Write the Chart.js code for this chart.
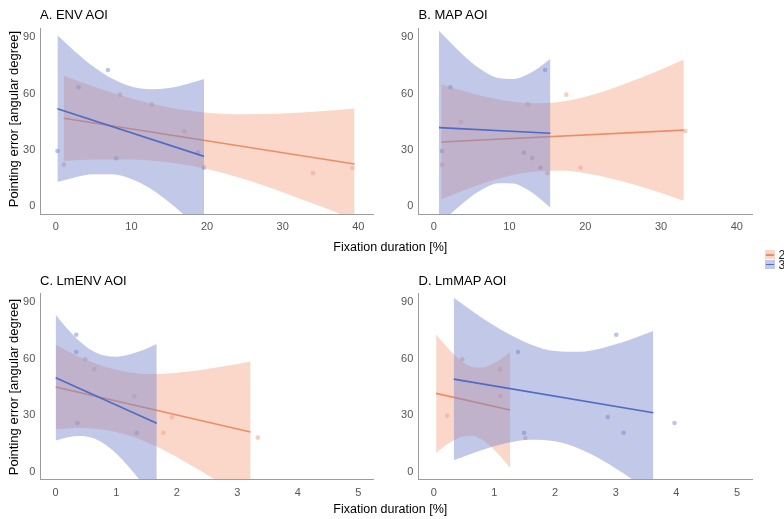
<!DOCTYPE html>
<html><head><meta charset="utf-8">
<script src="https://cdn.jsdelivr.net/npm/chart.js@4"></script>
<style>
body{margin:0;background:#fff;width:784px;height:519px;overflow:hidden;position:relative;font-family:"Liberation Sans",Arial,sans-serif;}
canvas{position:absolute;}
.t{position:absolute;white-space:nowrap;color:#000;}
.key{position:absolute;width:10px;height:9px;}
.key i{position:absolute;left:1px;right:1px;top:4px;height:1.5px;display:block;}
</style></head><body>
<canvas id="cA" width="392" height="260" style="left:0;top:0"></canvas>
<canvas id="cB" width="392" height="260" style="left:392px;top:0"></canvas>
<canvas id="cC" width="392" height="259" style="left:0;top:260px"></canvas>
<canvas id="cD" width="392" height="259" style="left:392px;top:260px"></canvas>

<div class="t" style="left:40px;top:8.3px;font-size:13px;line-height:13px">A. ENV AOI</div>
<div class="t" style="left:418.5px;top:8.3px;font-size:13px;line-height:13px">B. MAP AOI</div>
<div class="t" style="left:40px;top:274px;font-size:13px;line-height:13px">C. LmENV AOI</div>
<div class="t" style="left:418.5px;top:274px;font-size:13px;line-height:13px">D. LmMAP AOI</div>

<div class="t" style="left:-86.5px;top:112px;width:200px;height:14px;line-height:14px;font-size:13px;text-align:center;transform:rotate(-90deg)">Pointing error [angular degree]</div>
<div class="t" style="left:-86.5px;top:379.5px;width:200px;height:14px;line-height:14px;font-size:13px;text-align:center;transform:rotate(-90deg)">Pointing error [angular degree]</div>

<div class="t" style="left:290.3px;top:241.4px;width:200px;text-align:center;font-size:12.5px;line-height:12.5px">Fixation duration [%]</div>
<div class="t" style="left:290.3px;top:503px;width:200px;text-align:center;font-size:12.5px;line-height:12.5px">Fixation duration [%]</div>

<div class="key" style="left:765px;top:250px;background:#F9D7C8"><i style="background:#EB8E68"></i></div>
<div class="key" style="left:765px;top:259.5px;background:#C3C9E7"><i style="background:#4E6BC6"></i></div>
<div class="t" id="lg2" style="left:778.5px;top:248.5px;font-size:12px;line-height:12px;color:#222">2</div>
<div class="t" id="lg3" style="left:778.5px;top:258.5px;font-size:12px;line-height:12px;color:#222">3</div>

<script>
// ---- tick labels ----
const yTicks = [0, 30, 60, 90];
const xTicksAB = [0, 10, 20, 30, 40];
const xTicksCD = [0, 1, 2, 3, 4, 5];
const groups = ['2', '3'];

// ---- Panel A: ENV AOI ----
const aOrPtsX = [1.06, 8.5, 12.7, 17.0, 34.0, 39.2];
const aOrPtsY = [22.2, 59.5, 54.3, 40.0, 17.7, 20.4];
const aBlPtsX = [0.22, 3.0, 6.9, 8.0, 18.8, 19.6];
const aBlPtsY = [29.5, 63.4, 72.6, 25.6, 28.8, 20.6];
const aOrBandX = [1.06, 5, 10, 15, 20, 25, 30, 35, 39.5];
const aOrUpper = [69.5, 63.8, 57.4, 52.6, 49.9, 49.1, 49.5, 50.6, 52.1];
const aOrLower = [24.3, 25.0, 25.0, 23.4, 19.9, 14.4, 7.5, 0.0, -7.1];
const aOrFitX = [1.06, 39.5];
const aOrFitY = [46.9, 22.5];
const aBlBandX = [0.22, 2.5, 5, 7.5, 10, 12.5, 15, 17.5, 19.6];
const aBlUpper = [91.1, 82.6, 74.3, 67.9, 63.8, 62.3, 63.0, 65.3, 67.8];
const aBlLower = [12.9, 15.4, 17.1, 17.1, 14.6, 9.5, 2.2, -6.5, -14.6];
const aBlFitX = [0.22, 19.6];
const aBlFitY = [52.0, 26.6];

// ---- Panel B: MAP AOI ----
const bOrPtsX = [17.5, 12.4, 3.6, 33.2, 1.1, 15.0, 19.4];
const bOrPtsY = [59.5, 54.3, 44.9, 40.1, 22.2, 17.7, 20.6];
const bBlPtsX = [14.7, 2.2, 1.1, 11.9, 13.0, 14.1];
const bBlPtsY = [72.6, 63.4, 29.5, 28.6, 25.7, 20.6];
const bOrBandX = [1.0, 5, 9, 13, 17, 21, 25, 29, 33.0];
const bOrUpper = [64.9, 60.2, 56.6, 54.9, 55.9, 59.5, 64.9, 71.2, 78.2];
const bOrLower = [3.7, 10.0, 15.2, 18.4, 19.0, 17.0, 13.2, 8.4, 3.0];
const bOrFitX = [1.0, 33.0];
const bOrFitY = [34.3, 40.6];
const bBlBandX = [0.7, 2.5, 4.5, 6.5, 8.5, 10.5, 12.5, 14, 15.4];
const bBlUpper = [93.6, 86.1, 78.4, 72.2, 68.3, 67.8, 70.5, 74.2, 78.6];
const bBlLower = [-9.8, -3.1, 3.8, 9.2, 12.3, 12.1, 8.5, 4.1, -0.8];
const bBlFitX = [0.7, 15.4];
const bBlFitY = [41.9, 38.9];

// ---- Panel C: LmENV AOI ----
const cOrPtsX = [0.49, 0.64, 1.3, 1.78, 1.92, 3.34];
const cOrPtsY = [59.7, 54.5, 40.0, 20.7, 28.9, 18.1];
const cBlPtsX = [0.34, 0.34, 0.36, 1.34];
const cBlPtsY = [72.8, 63.6, 25.9, 20.5];
const cOrBandX = [0, 0.4, 0.8, 1.2, 1.6, 2.0, 2.4, 2.8, 3.22];
const cOrUpper = [67.4, 60.8, 55.9, 52.9, 51.9, 52.6, 54.1, 56.1, 58.6];
const cOrLower = [22.6, 23.2, 22.3, 19.3, 14.3, 7.8, 0.3, -7.7, -16.4];
const cOrFitX = [0, 3.22];
const cOrFitY = [45.0, 21.1];
const cBlBandX = [0, 0.2, 0.4, 0.6, 0.8, 1.0, 1.2, 1.4, 1.67];
const cBlUpper = [83.4, 75.7, 69.2, 64.4, 61.7, 61.1, 62.1, 64.1, 67.9];
const cBlLower = [16.5, 18.3, 19.0, 18.0, 14.9, 9.7, 2.9, -4.9, -16.5];
const cBlFitX = [0, 1.67];
const cBlFitY = [49.9, 25.7];

// ---- Panel D: LmMAP AOI ----
const dOrPtsX = [0.47, 1.09, 1.1, 0.22, 1.51];
const dOrPtsY = [59.7, 54.4, 40.2, 29.7, 17.9];
const dBlPtsX = [3.01, 1.39, 2.87, 3.97, 1.49, 3.13];
const dBlPtsY = [72.8, 63.6, 29.0, 25.9, 20.6, 20.7];
const dOrBandX = [0.04, 0.2, 0.35, 0.5, 0.65, 0.8, 0.95, 1.1, 1.26];
const dOrUpper = [73.1, 66.9, 61.7, 57.7, 55.5, 55.3, 56.9, 59.8, 63.6];
const dOrLower = [10.1, 14.1, 17.0, 18.8, 18.9, 16.9, 13.1, 8.2, 2.0];
const dOrFitX = [0.04, 1.26];
const dOrFitY = [41.6, 32.8];
const dBlBandX = [0.33, 0.75, 1.2, 1.6, 2.0, 2.4, 2.8, 3.2, 3.62];
const dBlUpper = [92.4, 82.8, 73.8, 67.6, 64.1, 63.7, 65.9, 69.7, 74.7];
const dBlLower = [6.0, 11.0, 15.2, 17.0, 16.1, 12.2, 5.7, -2.5, -12.1];
const dBlFitX = [0.33, 3.62];
const dBlFitY = [49.2, 31.3];

// ---- styles ----
const OR_LINE = '#EB8E68', OR_FILL = 'rgba(243,160,125,0.42)', OR_PT = 'rgba(232,130,95,0.38)';
const BL_LINE = '#4E6BC6', BL_FILL = 'rgba(118,132,204,0.45)', BL_PT = 'rgba(80,100,200,0.38)';

const xy = (xs, ys) => xs.map((x, i) => ({x: x, y: ys[i]}));

function bandSets(bx, up, lo, fill, order) {
  return [
    {type:'line', data: xy(bx, up), fill: {target:'+1'}, backgroundColor: fill,
     borderColor:'rgba(0,0,0,0)', borderWidth:0, pointRadius:0, cubicInterpolationMode:'monotone', order: order},
    {type:'line', data: xy(bx, lo), fill: false, borderColor:'rgba(0,0,0,0)', borderWidth:0,
     pointRadius:0, cubicInterpolationMode:'monotone', order: order}
  ];
}
function fitSet(fx, fy, color, order) {
  return {type:'line', data: xy(fx, fy), fill:false, borderColor: color, borderWidth:1.6, pointRadius:0, order: order};
}
function ptSet(px, py, color) {
  return {type:'scatter', data: xy(px, py), showLine:false, backgroundColor: color, borderWidth:0,
          pointRadius:2.3, pointStyle:'circle', order: 10};
}

function panel(id, cv, area, xr, yr, xT, P) {
  const tickFont = {family:'"Liberation Sans", Arial, sans-serif', size:11};
  new Chart(document.getElementById(id), {
    type: 'line',
    data: { datasets: [
      ...bandSets(P.obx, P.ou, P.ol, OR_FILL, 6),
      fitSet(P.ofx, P.ofy, OR_LINE, 5),
      ...bandSets(P.bbx, P.bu, P.bl, BL_FILL, 4),
      fitSet(P.bfx, P.bfy, BL_LINE, 3),
      ptSet(P.opx, P.opy, OR_PT),
      ptSet(P.bpx, P.bpy, BL_PT)
    ]},
    options: {
      responsive:false, animation:false, devicePixelRatio:1,
      layout:{padding:{left:0, top: area.t - cv.top, right: cv.left + cv.w - area.r, bottom:0}},
      plugins:{legend:{display:false}, tooltip:{enabled:false}},
      scales:{
        x:{type:'linear', min:xr[0], max:xr[1],
           grid:{display:false, drawTicks:false},
           border:{display:true, color:'#9c9c9c', width:1},
           ticks:{color:'#555', font:tickFont, padding: P.xpad, maxRotation:0},
           afterBuildTicks: s => { s.ticks = xT.map(v => ({value:v})); },
           afterFit: s => { s.height = cv.top + cv.h - area.b; }
        },
        y:{type:'linear', min:yr[0], max:yr[1],
           grid:{display:false, drawTicks:false},
           border:{display:true, color:'#9c9c9c', width:1},
           ticks:{color:'#555', font:tickFont, padding:5},
           afterBuildTicks: s => { s.ticks = yTicks.map(v => ({value:v})); },
           afterFit: s => { s.width = area.l - cv.left; }
        }
      }
    }
  });
}

panel('cA', {left:0, top:0, w:392, h:260}, {l:40.3, r:373, t:28, b:214}, [-2.04, 41.94], [-4.1, 95], xTicksAB,
  {obx:aOrBandX, ou:aOrUpper, ol:aOrLower, ofx:aOrFitX, ofy:aOrFitY, bbx:aBlBandX, bu:aBlUpper, bl:aBlLower,
   bfx:aBlFitX, bfy:aBlFitY, opx:aOrPtsX, opy:aOrPtsY, bpx:aBlPtsX, bpy:aBlPtsY, xpad:6});
panel('cB', {left:392, top:0, w:392, h:260}, {l:418.3, r:752, t:28, b:214}, [-2.03, 42.0], [-4.1, 95], xTicksAB,
  {obx:bOrBandX, ou:bOrUpper, ol:bOrLower, ofx:bOrFitX, ofy:bOrFitY, bbx:bBlBandX, bu:bBlUpper, bl:bBlLower,
   bfx:bBlFitX, bfy:bBlFitY, opx:bOrPtsX, opy:bOrPtsY, bpx:bBlPtsX, bpy:bBlPtsY, xpad:6});
panel('cC', {left:0, top:260, w:392, h:259}, {l:40.3, r:373, t:293.3, b:479}, [-0.254, 5.243], [-3.9, 94.8], xTicksCD,
  {obx:cOrBandX, ou:cOrUpper, ol:cOrLower, ofx:cOrFitX, ofy:cOrFitY, bbx:cBlBandX, bu:cBlUpper, bl:cBlLower,
   bfx:cBlFitX, bfy:cBlFitY, opx:cOrPtsX, opy:cOrPtsY, bpx:cBlPtsX, bpy:cBlPtsY, xpad:7});
panel('cD', {left:392, top:260, w:392, h:259}, {l:418.3, r:752, t:293.3, b:479}, [-0.254, 5.247], [-3.9, 94.8], xTicksCD,
  {obx:dOrBandX, ou:dOrUpper, ol:dOrLower, ofx:dOrFitX, ofy:dOrFitY, bbx:dBlBandX, bu:dBlUpper, bl:dBlLower,
   bfx:dBlFitX, bfy:dBlFitY, opx:dOrPtsX, opy:dOrPtsY, bpx:dBlPtsX, bpy:dBlPtsY, xpad:7});

document.getElementById('lg2').textContent = groups[0];
document.getElementById('lg3').textContent = groups[1];
</script>
</body></html>
